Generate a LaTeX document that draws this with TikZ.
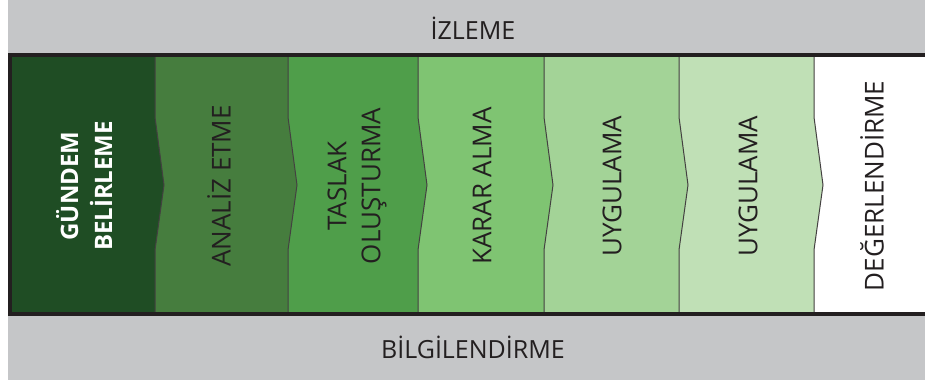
\documentclass[tikz,border=0pt]{standalone}
\usepackage{fontspec}
\setmainfont{Open Sans}
\usepackage{tikz}

\definecolor{bandgray}{HTML}{C5C6C8}
\definecolor{inkdark}{HTML}{231F20}
\definecolor{stepone}{HTML}{1F4D24}
\definecolor{steptwo}{HTML}{467D3E}
\definecolor{stepthree}{HTML}{4F9E4A}
\definecolor{stepfour}{HTML}{7FC472}
\definecolor{stepfive}{HTML}{A3D397}
\definecolor{stepsix}{HTML}{C0E0B6}

\tikzset{
  chevron/.style={draw=inkdark!85, line width=1pt},
  frameline/.style={draw=inkdark, line width=4pt},
  bandlabel/.style={text=inkdark, font=\fontsize{25}{30}\selectfont},
  steplabel/.style={rotate=90, align=center, text=inkdark, font=\fontsize{26}{34}\selectfont}
}

\begin{document}
\begin{tikzpicture}[x=1pt, y=-1pt]
    \useasboundingbox (0,0) rectangle (925,380);
    \fill[bandgray] (8,0) rectangle (925,380);

    % panels, right to left so that each tip lies over the next panel
    \fill[white] (814,57) rectangle (925,312);
    \foreach \xl/\xr/\col in {679/814/stepsix, 544/679/stepfive, 418/544/stepfour,
                              288/418/stepthree, 155/288/steptwo, 12/155/stepone} {
      \fill[\col] (\xl,57) -- (\xr,57) -- (\xr,117) -- (\xr+9,185) -- (\xr,250)
                  -- (\xr,312) -- (\xl,312) -- cycle;
      \draw[chevron] (\xr,57) -- (\xr,117) -- (\xr+9,185) -- (\xr,250) -- (\xr,312);
    }

    % frame
    \draw[frameline] (925,55) -- (10,55) -- (10,314) -- (925,314);

    \node[bandlabel] (izleme) at (473,28) {İZLEME};
    \node[bandlabel] (bilgi) at (473,347) {BİLGİLENDİRME};

    \node[steplabel, text=white, font=\fontsize{24}{34}\selectfont\bfseries] (gundem) at (84,186) {GÜNDEM\\BELİRLEME};
    \node[steplabel] (analiz) at (219,186) {ANALİZ ETME};
    \node[steplabel] (taslak) at (357,186) {TASLAK\\OLUŞTURMA};
    \node[steplabel] (karar) at (482,186) {KARAR ALMA};
    \node[steplabel] (uygulamaA) at (612,186) {UYGULAMA};
    \node[steplabel] (uygulamaB) at (748,186) {UYGULAMA};
    \node[steplabel] (deger) at (872,186) {DEĞERLENDİRME};
  \end{tikzpicture}
\end{document}
